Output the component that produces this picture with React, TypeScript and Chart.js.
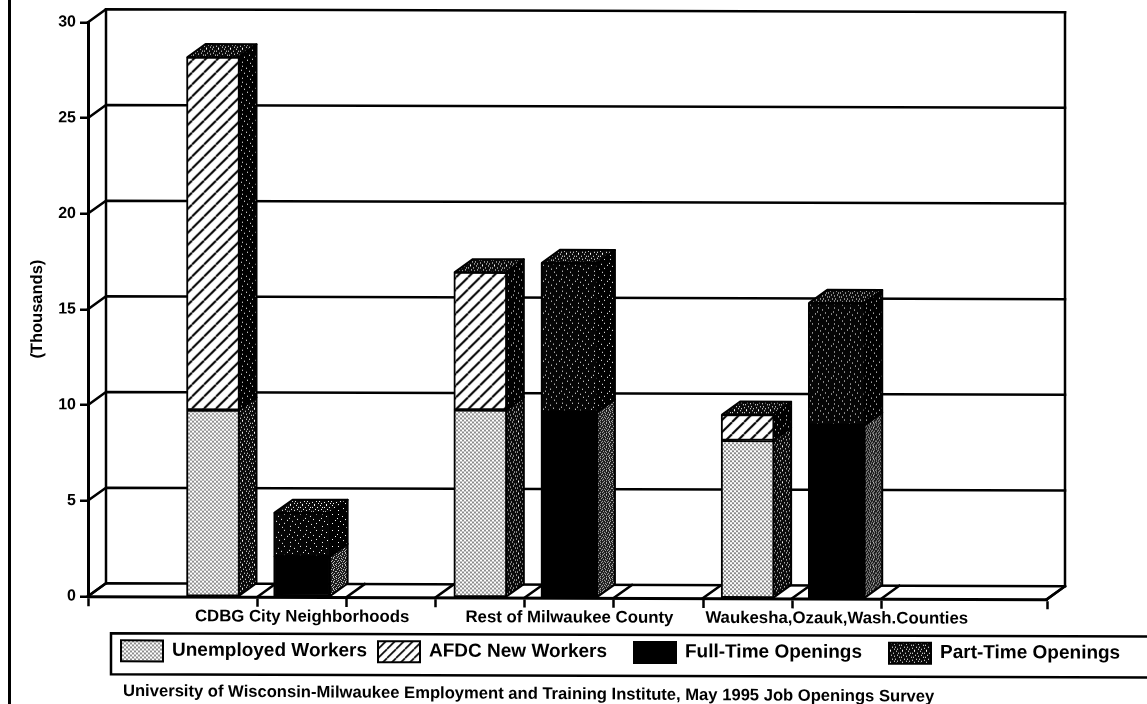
import React, { useEffect, useRef } from "react";
import { Chart, registerables } from "chart.js";

Chart.register(...registerables);

const groupLabels = ["CDBG City Neighborhoods", "Rest of Milwaukee County", "Waukesha,Ozauk,Wash.Counties"];
const workerSlots = [0, 3, 6];
const openingSlots = [1, 4, 7];
const unemployedWorkers = [9.75, 9.8, 8.25];
const afdcNewWorkers = [18.45, 7.2, 1.35];
const fullTimeOpenings = [2.1, 9.7, 9.05];
const partTimeOpenings = [2.3, 7.8, 6.4];
const xTickValues = [-1.403, 0.5, 1, 1.5, 2.5, 3.5, 4, 4.5, 5.5, 6.5, 7, 7.5, 9.36];
const sourceNote = "University of Wisconsin-Milwaukee Employment and Training Institute, May 1995 Job Openings Survey";

const DEPTH_X = 18;
const DEPTH_Y = 13;
const FONT = '"Liberation Sans", Arial, sans-serif';

function bitTile(rows: string[], fg: string, bg: string): CanvasPattern {
  const c = document.createElement("canvas");
  c.width = rows[0].length;
  c.height = rows.length;
  const g = c.getContext("2d")!;
  g.fillStyle = bg;
  g.fillRect(0, 0, c.width, c.height);
  g.fillStyle = fg;
  rows.forEach((r, y) => [...r].forEach((ch, x) => { if (ch === "#") g.fillRect(x, y, 1, 1); }));
  return g.createPattern(c, "repeat")!;
}

function dotTile(): CanvasPattern {
  const c = document.createElement("canvas");
  c.width = 4; c.height = 4;
  const g = c.getContext("2d")!;
  g.fillStyle = "#fff";
  g.fillRect(0, 0, 4, 4);
  g.fillStyle = "#222";
  [[1, 1], [3, 3], [3, -1], [-1, 3], [-1, -1], [1, 5], [5, 1]].forEach(([x, y]) => {
    g.beginPath(); g.arc(x, y, 0.85, 0, Math.PI * 2); g.fill();
  });
  return g.createPattern(c, "repeat")!;
}

function hatchTile(p: number, lw: number): CanvasPattern {
  const c = document.createElement("canvas");
  c.width = p; c.height = p;
  const g = c.getContext("2d")!;
  g.fillStyle = "#fff";
  g.fillRect(0, 0, p, p);
  g.strokeStyle = "#000";
  g.lineWidth = lw;
  [-p, 0, p].forEach((o) => {
    g.beginPath(); g.moveTo(o, p); g.lineTo(o + p, 0); g.stroke();
  });
  return g.createPattern(c, "repeat")!;
}

const sparseRows = [
  "................",
  "..#.........#...",
  "................",
  "......#.........",
  "................",
  ".#..............",
  ".........#......",
  "...............#",
  "....#...........",
  "................",
  "............#...",
  ".......#........",
  "................",
  "..#.............",
  "..........#.....",
  "................",
];
const mediumRows = [
  "..#.....#...",
  "............",
  "#....#....#.",
  "............",
  "...#.....#..",
  "......#.....",
  ".#.........#",
  "............",
  "....#..#....",
  "#...........",
  "......#..#..",
  "..#.........",
];
const denseRows = [
  "#..#..#..#..",
  "..#...#...#.",
  "#...#...#...",
  "..#..#....#.",
  ".#.....#.#..",
  "...#.#...#..",
  "#.....#....#",
  "..#.#...#...",
  ".#...#.#..#.",
  "...#.....#..",
  "#.#...#.#...",
  "....#....#.#",
];

export default function App() {
  const ref = useRef<HTMLCanvasElement | null>(null);

  useEffect(() => {
    document.body.style.margin = "0";
    const dots = dotTile();
    const hatch = hatchTile(12, 2);
    const hatchSmall = hatchTile(9, 1.6);
    const partFront = bitTile(sparseRows, "#fff", "#050505");
    const sparse = bitTile(sparseRows, "#fff", "#000");
    const medium = bitTile(mediumRows, "#fff", "#0a0a0a");
    const dense = bitTile(denseRows, "#bbb", "#1c1c1c");
    const sideFill = [medium, sparse, dense, sparse];
    const legendFill = [dots, hatchSmall, "#000", medium];
    const legendX = [121, 378, 634, 889];

    const threeD = {
      id: "threeD",
      beforeDraw(chart: any) {
        const c = chart.ctx;
        c.save();
        c.transform(1, 0.003, 0, 1, 0, 0);
      },
      afterDraw(chart: any) {
        const c = chart.ctx;
        // legend box, legend entries and the source line
        c.strokeStyle = "#000";
        c.lineWidth = 2.5;
        c.beginPath();
        c.moveTo(1150, 633);
        c.lineTo(111, 633);
        c.lineTo(111, 674);
        c.lineTo(1150, 674);
        c.stroke();
        chart.data.datasets.forEach((d: any, i: number) => {
          c.fillStyle = legendFill[i];
          c.fillRect(legendX[i], 640, 42, 21);
          c.lineWidth = 2;
          c.strokeRect(legendX[i], 640, 42, 21);
          c.fillStyle = "#000";
          c.font = `bold 19px ${FONT}`;
          c.textAlign = "left";
          c.textBaseline = "middle";
          c.fillText(d.label, legendX[i] + 51, 650);
        });
        c.save();
        c.transform(1, 0.004, 0, 1, 0, -0.5);
        c.font = `bold 16.6px ${FONT}`;
        c.fillText(sourceNote, 123, 691);
        c.restore();
        c.restore();
        // page rule at the left of the scan
        c.fillStyle = "#000";
        c.fillRect(8, 0, 3, 704);
      },
      beforeDatasetsDraw(chart: any) {
        const c = chart.ctx;
        const { x, y } = chart.scales;
        const a = chart.chartArea;
        c.save();
        c.strokeStyle = "#000";
        c.lineCap = "square";
        // back wall and its grid
        c.lineWidth = 2.5;
        const rx = a.right + DEPTH_X;
        const lx = a.left + DEPTH_X;
        y.ticks.forEach((t: any) => {
          const py = y.getPixelForValue(t.value);
          c.beginPath();
          c.moveTo(a.left, py);
          c.lineTo(lx, py - DEPTH_Y);
          c.lineTo(rx, py - DEPTH_Y);
          c.stroke();
        });
        c.beginPath();
        c.moveTo(lx, a.top - DEPTH_Y);
        c.lineTo(lx, a.bottom - DEPTH_Y);
        c.moveTo(rx, a.top - DEPTH_Y);
        c.lineTo(rx, a.bottom - DEPTH_Y);
        c.lineTo(a.right, a.bottom);
        c.stroke();
        // floor rails from the ticks
        x.ticks.forEach((t: any) => {
          if (Number.isInteger(t.value)) return;
          const px = x.getPixelForValue(t.value);
          c.beginPath();
          c.moveTo(px, a.bottom);
          c.lineTo(px + DEPTH_X, a.bottom - DEPTH_Y);
          c.stroke();
        });
        // side and top faces of the bars
        c.lineJoin = "round";
        c.lineWidth = 2;
        chart.data.datasets.forEach((_: any, di: number) => {
          chart.getDatasetMeta(di).data.forEach((bar: any) => {
            const { x: bx, y: by, base, width } = bar.getProps(["x", "y", "base", "width"], true);
            const r = bx + width / 2 - 1;
            const l = bx - width / 2 + 1;
            c.fillStyle = sideFill[di];
            c.beginPath();
            c.moveTo(r, by);
            c.lineTo(r + DEPTH_X, by - DEPTH_Y);
            c.lineTo(r + DEPTH_X, base - DEPTH_Y);
            c.lineTo(r, base);
            c.closePath();
            c.fill();
            c.stroke();
            if (di % 2 === 1) {
              c.fillStyle = medium;
              c.beginPath();
              c.moveTo(l, by);
              c.lineTo(l + DEPTH_X, by - DEPTH_Y);
              c.lineTo(r + DEPTH_X, by - DEPTH_Y);
              c.lineTo(r, by);
              c.closePath();
              c.fill();
              c.stroke();
            }
          });
        });
        c.restore();
      },
    };

    const series = (slots: number[], values: number[]) => slots.map((s, i) => ({ x: s, y: values[i] }));
    const common = { borderColor: "#000", borderWidth: 2, borderSkipped: false, clip: false };

    const chart = new Chart(ref.current!, {
      type: "bar",
      data: {
        datasets: [
          { label: "Unemployed Workers", data: series(workerSlots, unemployedWorkers), backgroundColor: dots, barThickness: 53, ...common },
          { label: "AFDC New Workers", data: series(workerSlots, afdcNewWorkers), backgroundColor: hatch, barThickness: 53, ...common },
          { label: "Full-Time Openings", data: series(openingSlots, fullTimeOpenings), backgroundColor: "#000", barThickness: 57, ...common },
          { label: "Part-Time Openings", data: series(openingSlots, partTimeOpenings), backgroundColor: partFront, barThickness: 57, ...common },
        ] as any,
      },
      options: {
        responsive: false,
        animation: false,
        layout: { autoPadding: false, padding: { left: 28, top: 22, right: 100, bottom: 0 } },
        plugins: { legend: { display: false }, title: { display: false }, tooltip: { enabled: false } },
        scales: {
          x: {
            type: "linear",
            offset: false,
            stacked: true,
            min: -1.403,
            max: 9.36,
            afterBuildTicks: (axis: any) => { axis.ticks = xTickValues.map((value) => ({ value })); },
            afterFit: (axis: any) => { axis.height = 108; },
            border: { display: true, color: "#000", width: 3 },
            grid: {
              offset: false,
              drawOnChartArea: false,
              drawTicks: true,
              tickLength: 10,
              tickWidth: 2.5,
              tickColor: (ctx: any) => (Number.isInteger(ctx.tick?.value) ? "rgba(0,0,0,0)" : "#000"),
            },
            ticks: {
              autoSkip: false,
              maxRotation: 0,
              minRotation: 0,
              padding: 0,
              color: "#000",
              font: { family: FONT, size: 16.8, weight: "bold" },
              callback: (v: any) => {
                const i = openingSlots.indexOf(v);
                return i >= 0 ? groupLabels[i] : "";
              },
            },
          },
          y: {
            stacked: true,
            min: 0,
            max: 30,
            afterFit: (axis: any) => { axis.width = 60; },
            border: { display: true, color: "#000", width: 3 },
            title: {
              display: true,
              text: "(Thousands)",
              color: "#000",
              padding: 0,
              font: { family: FONT, size: 16.5, weight: "bold" },
            },
            grid: { drawOnChartArea: false, drawTicks: true, tickLength: 8, tickWidth: 2.5, tickColor: "#000" },
            ticks: {
              stepSize: 5,
              padding: 4,
              color: "#000",
              font: { family: FONT, size: 16, weight: "bold" },
            },
          },
        },
      } as any,
      plugins: [threeD],
    });
    return () => chart.destroy();
  }, []);

  return (
    <canvas
      ref={ref}
      width={1147}
      height={704}
      style={{ position: "fixed", left: 0, top: 0, width: 1147, height: 704, background: "#fff" }}
    />
  );
}
